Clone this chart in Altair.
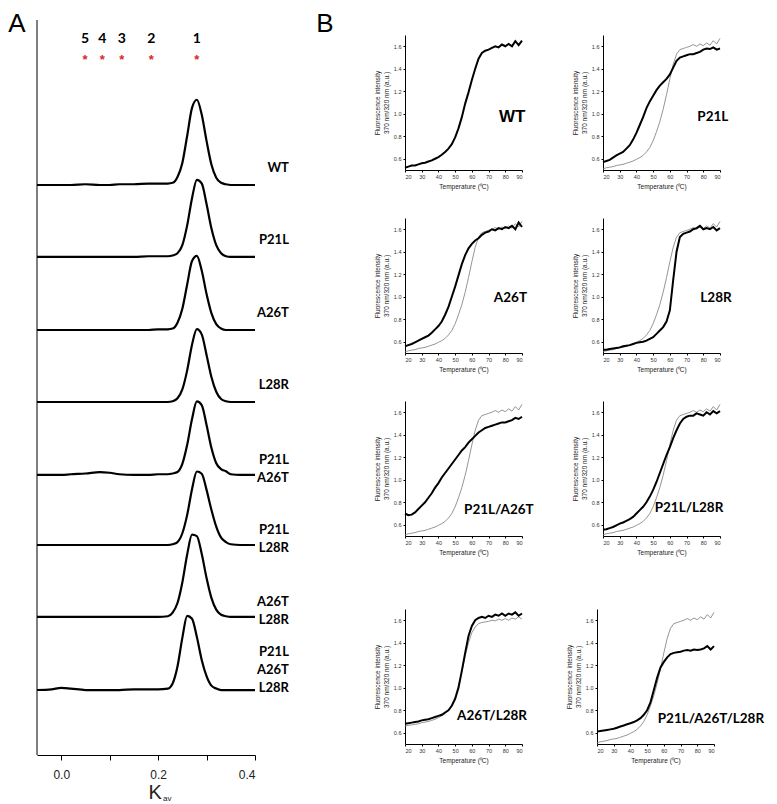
import altair as alt
import pandas as pd

# ---------------- Panel A : size-exclusion profiles ----------------
kav = [-0.05, -0.02, 0.0, 0.02, 0.05, 0.08, 0.10, 0.12, 0.15, 0.18, 0.20,
       0.22, 0.23, 0.24, 0.25, 0.26, 0.27, 0.28, 0.29, 0.30, 0.31, 0.32, 0.33, 0.34, 0.35,
       0.37, 0.40]
sec_names = ["WT", "P21L", "A26T", "L28R", "P21L/A26T", "P21L/L28R", "A26T/L28R", "P21L/A26T/L28R"]
sec_offset = [7.755, 6.776, 5.782, 4.803, 3.810, 2.857, 1.878, 0.884]
sec_WT = [0.0, 0.0, 0.0, 0.0, 0.01, 0.0, 0.0, 0.01, 0.01, 0.02, 0.02,
          0.02, 0.03, 0.11, 0.30, 0.67, 1.05, 1.16, 0.96, 0.60, 0.28, 0.10, 0.03, 0.01, 0.0,
          0.0, 0.0]
sec_P21L = [0.0, 0.0, 0.0, 0.0, 0.0, 0.0, 0.0, 0.0, 0.0, 0.01, 0.01,
            0.01, 0.02, 0.05, 0.16, 0.43, 0.80, 1.05, 1.00, 0.72, 0.39, 0.16, 0.05, 0.01, 0.0,
            0.0, 0.0]
sec_A26T = [0.0, 0.0, 0.0, 0.0, 0.0, 0.0, 0.0, 0.0, 0.0, 0.0, 0.01,
            0.01, 0.02, 0.10, 0.29, 0.62, 0.94, 1.01, 0.81, 0.49, 0.23, 0.08, 0.02, 0.0, 0.0,
            0.0, 0.0]
sec_L28R = [0.0, 0.0, 0.0, 0.0, 0.0, 0.0, 0.0, 0.0, 0.0, 0.0, 0.0,
            0.0, 0.01, 0.05, 0.17, 0.43, 0.78, 0.99, 0.92, 0.64, 0.34, 0.14, 0.04, 0.01, 0.0,
            0.0, 0.0]
sec_P21L_A26T = [0.0, 0.0, 0.0, 0.01, 0.02, 0.04, 0.03, 0.01, 0.0, 0.0, 0.01,
                 0.01, 0.02, 0.04, 0.15, 0.41, 0.76, 1.00, 0.95, 0.68, 0.37, 0.16, 0.08, 0.05, 0.01,
                 0.0, 0.0]
sec_P21L_L28R = [0.0, 0.0, 0.0, 0.0, 0.0, 0.0, 0.0, 0.0, 0.0, 0.0, 0.0,
                 0.0, 0.01, 0.04, 0.16, 0.41, 0.76, 1.00, 0.97, 0.75, 0.48, 0.25, 0.10, 0.04, 0.01,
                 0.0, 0.0]
sec_A26T_L28R = [0.0, 0.0, 0.0, 0.0, 0.0, 0.0, 0.0, 0.0, 0.0, 0.0, 0.0,
                 0.01, 0.06, 0.19, 0.47, 0.85, 1.12, 1.10, 0.86, 0.53, 0.26, 0.10, 0.03, 0.01, 0.0,
                 0.0, 0.0]
sec_triple = [0.0, 0.01, 0.03, 0.02, 0.0, 0.0, 0.0, 0.0, 0.01, 0.01, 0.01,
              0.02, 0.09, 0.32, 0.71, 1.01, 0.97, 0.72, 0.41, 0.19, 0.06, 0.02, 0.0, 0.0, 0.0,
              0.0, 0.0]
sec_signal = [sec_WT, sec_P21L, sec_A26T, sec_L28R, sec_P21L_A26T, sec_P21L_L28R,
              sec_A26T_L28R, sec_triple]

peak_numbers = ["5", "4", "3", "2", "1"]
peak_kav = [0.049, 0.085, 0.125, 0.186, 0.28]

# ---------------- Panel B : thermal unfolding ----------------
temps = [20, 22, 24, 26, 28, 30, 32, 34, 36, 38, 40, 42, 44, 46, 48, 50, 52, 54,
         56, 58, 60, 62, 64, 66, 68, 70, 72, 74, 76, 78, 80, 82, 84, 86, 88, 90]
wt_black = [0.52, 0.53, 0.54, 0.54, 0.55, 0.56, 0.565, 0.575, 0.585, 0.60, 0.615, 0.635,
            0.66, 0.69, 0.73, 0.79, 0.87, 0.97, 1.09, 1.19, 1.30, 1.40, 1.49, 1.54,
            1.56, 1.57, 1.585, 1.60, 1.59, 1.615, 1.60, 1.62, 1.60, 1.645, 1.61, 1.65]
wt_ref = [0.51, 0.52, 0.525, 0.53, 0.54, 0.545, 0.55, 0.56, 0.57, 0.58, 0.595, 0.61,
          0.63, 0.66, 0.70, 0.76, 0.84, 0.93, 1.04, 1.17, 1.31, 1.44, 1.53, 1.57,
          1.58, 1.59, 1.60, 1.615, 1.60, 1.62, 1.605, 1.63, 1.61, 1.65, 1.62, 1.67]
wt_ref_b = [0.66, 0.665, 0.67, 0.675, 0.68, 0.69, 0.695, 0.70, 0.71, 0.72, 0.735, 0.75,
            0.77, 0.80, 0.85, 0.92, 1.02, 1.14, 1.28, 1.40, 1.49, 1.54, 1.57, 1.58,
            1.585, 1.59, 1.60, 1.595, 1.61, 1.60, 1.615, 1.60, 1.62, 1.61, 1.63, 1.61]
p21l = [0.57, 0.58, 0.59, 0.61, 0.63, 0.645, 0.66, 0.69, 0.72, 0.77, 0.83, 0.90,
        0.97, 1.05, 1.11, 1.16, 1.21, 1.25, 1.28, 1.31, 1.35, 1.41, 1.47, 1.50,
        1.51, 1.52, 1.53, 1.53, 1.54, 1.55, 1.57, 1.58, 1.575, 1.59, 1.57, 1.58]
a26t = [0.56, 0.57, 0.58, 0.595, 0.61, 0.625, 0.64, 0.655, 0.68, 0.71, 0.74, 0.78,
        0.84, 0.91, 1.00, 1.09, 1.19, 1.29, 1.37, 1.43, 1.47, 1.50, 1.52, 1.55,
        1.57, 1.58, 1.60, 1.59, 1.61, 1.60, 1.62, 1.61, 1.63, 1.60, 1.66, 1.62]
l28r = [0.53, 0.53, 0.535, 0.54, 0.545, 0.55, 0.56, 0.565, 0.57, 0.58, 0.59, 0.595,
        0.60, 0.61, 0.625, 0.64, 0.67, 0.70, 0.73, 0.78, 0.88, 1.15, 1.40, 1.53,
        1.56, 1.57, 1.58, 1.60, 1.61, 1.63, 1.60, 1.61, 1.60, 1.62, 1.59, 1.61]
p21l_a26t = [0.70, 0.685, 0.69, 0.71, 0.74, 0.77, 0.80, 0.84, 0.88, 0.93, 0.97, 1.02,
             1.06, 1.10, 1.14, 1.18, 1.22, 1.26, 1.29, 1.33, 1.36, 1.39, 1.42, 1.44,
             1.46, 1.47, 1.48, 1.49, 1.50, 1.51, 1.51, 1.52, 1.53, 1.55, 1.54, 1.56]
p21l_l28r = [0.555, 0.56, 0.57, 0.58, 0.595, 0.61, 0.62, 0.635, 0.65, 0.67, 0.70, 0.73,
             0.76, 0.80, 0.85, 0.91, 0.98, 1.06, 1.14, 1.22, 1.29, 1.37, 1.44, 1.50,
             1.54, 1.56, 1.57, 1.57, 1.59, 1.58, 1.57, 1.60, 1.58, 1.61, 1.59, 1.61]
a26t_l28r = [0.68, 0.685, 0.69, 0.695, 0.70, 0.71, 0.715, 0.72, 0.73, 0.74, 0.75, 0.76,
             0.78, 0.80, 0.84, 0.90, 1.00, 1.15, 1.31, 1.46, 1.55, 1.60, 1.62, 1.63,
             1.62, 1.64, 1.63, 1.65, 1.64, 1.66, 1.64, 1.66, 1.65, 1.67, 1.64, 1.66]
triple = [0.61, 0.615, 0.62, 0.625, 0.63, 0.635, 0.645, 0.655, 0.665, 0.675, 0.685, 0.695,
          0.71, 0.73, 0.76, 0.80, 0.87, 0.98, 1.09, 1.18, 1.23, 1.27, 1.30, 1.31,
          1.315, 1.32, 1.33, 1.335, 1.33, 1.34, 1.335, 1.34, 1.35, 1.37, 1.34, 1.37]

b_names = ["WT", "P21L", "A26T", "L28R", "P21L/A26T", "P21L/L28R", "A26T/L28R", "P21L/A26T/L28R"]
b_black = [wt_black, p21l, a26t, l28r, p21l_a26t, p21l_l28r, a26t_l28r, triple]
b_grey = [None, wt_ref, wt_ref, wt_ref, wt_ref, wt_ref, wt_ref_b, wt_ref]
b_label_T = [92, 95, 93, 97, 97, 92, 93, 120]
b_label_v = [0.97, 0.97, 0.99, 0.99, 0.73, 0.75, 0.75, 0.725]

# ---------------- build panel A ----------------
PX = 73.5                 # pixels per y unit in panel A
A_W, A_H = 218, 720
A_YMAX = A_H / PX
AXIS_TOP = 10.0           # y axis line extends a little above the plot
LETTER_Y = -11            # panel letters, relative to the top plot edge

recs = []
for name, off, sig in zip(sec_names, sec_offset, sec_signal):
    for k, s in zip(kav, sig):
        recs.append({"trace": name, "kav": k, "y": off + s})
dfA = pd.DataFrame(recs)

line_px = {1: [17], 2: [15, -3], 3: [38, 20, 2]}
lab = []
for name, off in zip(sec_names, sec_offset):
    parts = name.split("/")
    for p, dy in zip(parts, line_px[len(parts)]):
        lab.append({"t": p, "kav": 0.47, "y": off + dy / PX})
dfLab = pd.DataFrame(lab)
dfNum = pd.DataFrame({"t": peak_numbers, "kav": peak_kav, "y": [9.74] * 5})
dfStar = pd.DataFrame({"t": ["*"] * 5, "kav": peak_kav, "y": [9.49] * 5})

xA = alt.Scale(domain=[-0.05, 0.4], nice=False, zero=False)
yA = alt.Scale(domain=[0, A_YMAX], nice=False, zero=False)
xAxisA = alt.Axis(values=[0, 0.1, 0.2, 0.3, 0.4],
                  labelExpr="abs((datum.value*10) % 2) < 0.01 ? format(datum.value, '.1f') : ''",
                  title=None, tickSize=5, tickColor="black", domainColor="black",
                  labelFontSize=12, labelFont="Liberation Sans", labelColor="#222",
                  labelPadding=9, grid=False, labelOverlap=False)
yAxisA = alt.Axis(labels=False, ticks=False, title=None, grid=False, domain=False)
xeA = alt.X("kav:Q", scale=xA, axis=xAxisA)
yeA = alt.Y("y:Q", scale=yA, axis=yAxisA)

linesA = alt.Chart(dfA).mark_line(color="black", strokeWidth=2.2, interpolate="monotone").encode(
    x=xeA, y=yeA, detail="trace:N")
yRule = alt.Chart(pd.DataFrame({"kav": [-0.05], "y": [0.0], "y2": [AXIS_TOP]})).mark_rule(
    color="black", strokeWidth=1).encode(x=xeA, y=yeA, y2="y2:Q")
labelsA = alt.Chart(dfLab).mark_text(font="Lato", fontWeight="bold", fontSize=13,
                                     align="right", baseline="middle", color="black").encode(
    x=xeA, y=yeA, text="t:N")
numsA = alt.Chart(dfNum).mark_text(font="Lato", fontWeight="bold", fontSize=14,
                                   baseline="middle", color="black").encode(
    x=xeA, y=yeA, text="t:N")
starsA = alt.Chart(dfStar).mark_text(font="Liberation Sans", fontWeight="bold", fontSize=13,
                                     baseline="middle", dy=3, color="#d42a2a").encode(
    x=xeA, y=yeA, text="t:N")
letterA = alt.Chart(pd.DataFrame({"t": ["A"]})).mark_text(
    font="Liberation Sans", fontSize=26, align="center", baseline="middle", color="black").encode(
    text="t:N", x=alt.value(-20), y=alt.value(LETTER_Y))
kA = alt.Chart(pd.DataFrame({"t": ["K"], "kav": [0.2]})).mark_text(
    font="Liberation Sans", fontSize=20, baseline="middle", dx=-3, color="#222").encode(
    text="t:N", x=xeA, y=alt.value(A_H + 38))
avA = alt.Chart(pd.DataFrame({"t": ["av"], "kav": [0.2]})).mark_text(
    font="Liberation Sans", fontSize=8, baseline="middle", align="left", dx=5, color="#222").encode(
    text="t:N", x=xeA, y=alt.value(A_H + 44))

panelA = alt.layer(linesA, yRule, labelsA, numsA, starsA, letterA, kA, avA).properties(
    width=A_W, height=A_H)

# ---------------- build panel B ----------------
B_W, B_H = 117, 135
xB = alt.Scale(domain=[20, 90], nice=False, zero=False)
yB = alt.Scale(domain=[0.5, 1.7], nice=False, zero=False)
axis_common = dict(grid=False, domainColor="black", tickColor="black", tickSize=2,
                   labelFontSize=5.5, labelFont="Liberation Sans", labelColor="#333",
                   titleFont="Liberation Sans", titleFontSize=6.5, titleFontWeight="normal",
                   titleColor="#222", labelPadding=2, labelOverlap=False)
xAxisB = alt.Axis(values=[20, 30, 40, 50, 60, 70, 80, 90], title="Temperature (\u2070C)",
                  titlePadding=4, **axis_common)
yAxisB = alt.Axis(values=[0.6, 0.8, 1.0, 1.2, 1.4, 1.6], format=".1f",
                  title=["Fluorescence intensity", "370 nm/320 nm  (a.u.)"],
                  titlePadding=4, **axis_common)


def b_chart(i):
    recs = []
    if b_grey[i] is not None:
        for t, v in zip(temps, b_grey[i]):
            recs.append({"T": t, "v": v, "s": "ref"})
    for t, v in zip(temps, b_black[i]):
        recs.append({"T": t, "v": v, "s": "mut"})
    df = pd.DataFrame(recs)
    xe = alt.X("T:Q", scale=xB, axis=xAxisB)
    ye = alt.Y("v:Q", scale=yB, axis=yAxisB)
    layers = []
    if b_grey[i] is not None:
        layers.append(alt.Chart(df).transform_filter("datum.s == 'ref'").mark_line(
            color="#7a7a7a", strokeWidth=0.8).encode(x=xe, y=ye))
    layers.append(alt.Chart(df).transform_filter("datum.s == 'mut'").mark_line(
        color="black", strokeWidth=2).encode(x=xe, y=ye))
    if b_names[i] == "WT":
        font, size = "Liberation Sans", 17
    else:
        font, size = "Lato", 13.5
    layers.append(alt.Chart(pd.DataFrame({"T": [b_label_T[i]], "v": [b_label_v[i]], "t": [b_names[i]]}))
                  .mark_text(font=font, fontWeight="bold", fontSize=size, align="right",
                             baseline="middle", color="black")
                  .encode(x=xe, y=ye, text="t:N"))
    if i == 0:
        layers.append(alt.Chart(pd.DataFrame({"t": ["B"]})).mark_text(
            font="Liberation Sans", fontSize=26, align="center", baseline="middle", color="black")
            .encode(text="t:N", x=alt.value(-80), y=alt.value(LETTER_Y)))
    return alt.layer(*layers).properties(width=B_W, height=B_H)


b_charts = [b_chart(i) for i in range(8)]
rows13 = alt.concat(*b_charts[:6], columns=2, spacing={"row": 28, "column": 38})
row4 = alt.concat(*b_charts[6:], columns=2, spacing={"row": 28, "column": 38})
panelB = alt.vconcat(rows13, row4, spacing=52)

chart = alt.hconcat(panelA, panelB, spacing=27).properties(
    padding={"top": 3, "left": 0, "right": 0, "bottom": 0}).configure_view(strokeWidth=0)

chart.save("out.html", embed_options={"renderer": "svg", "actions": False})
